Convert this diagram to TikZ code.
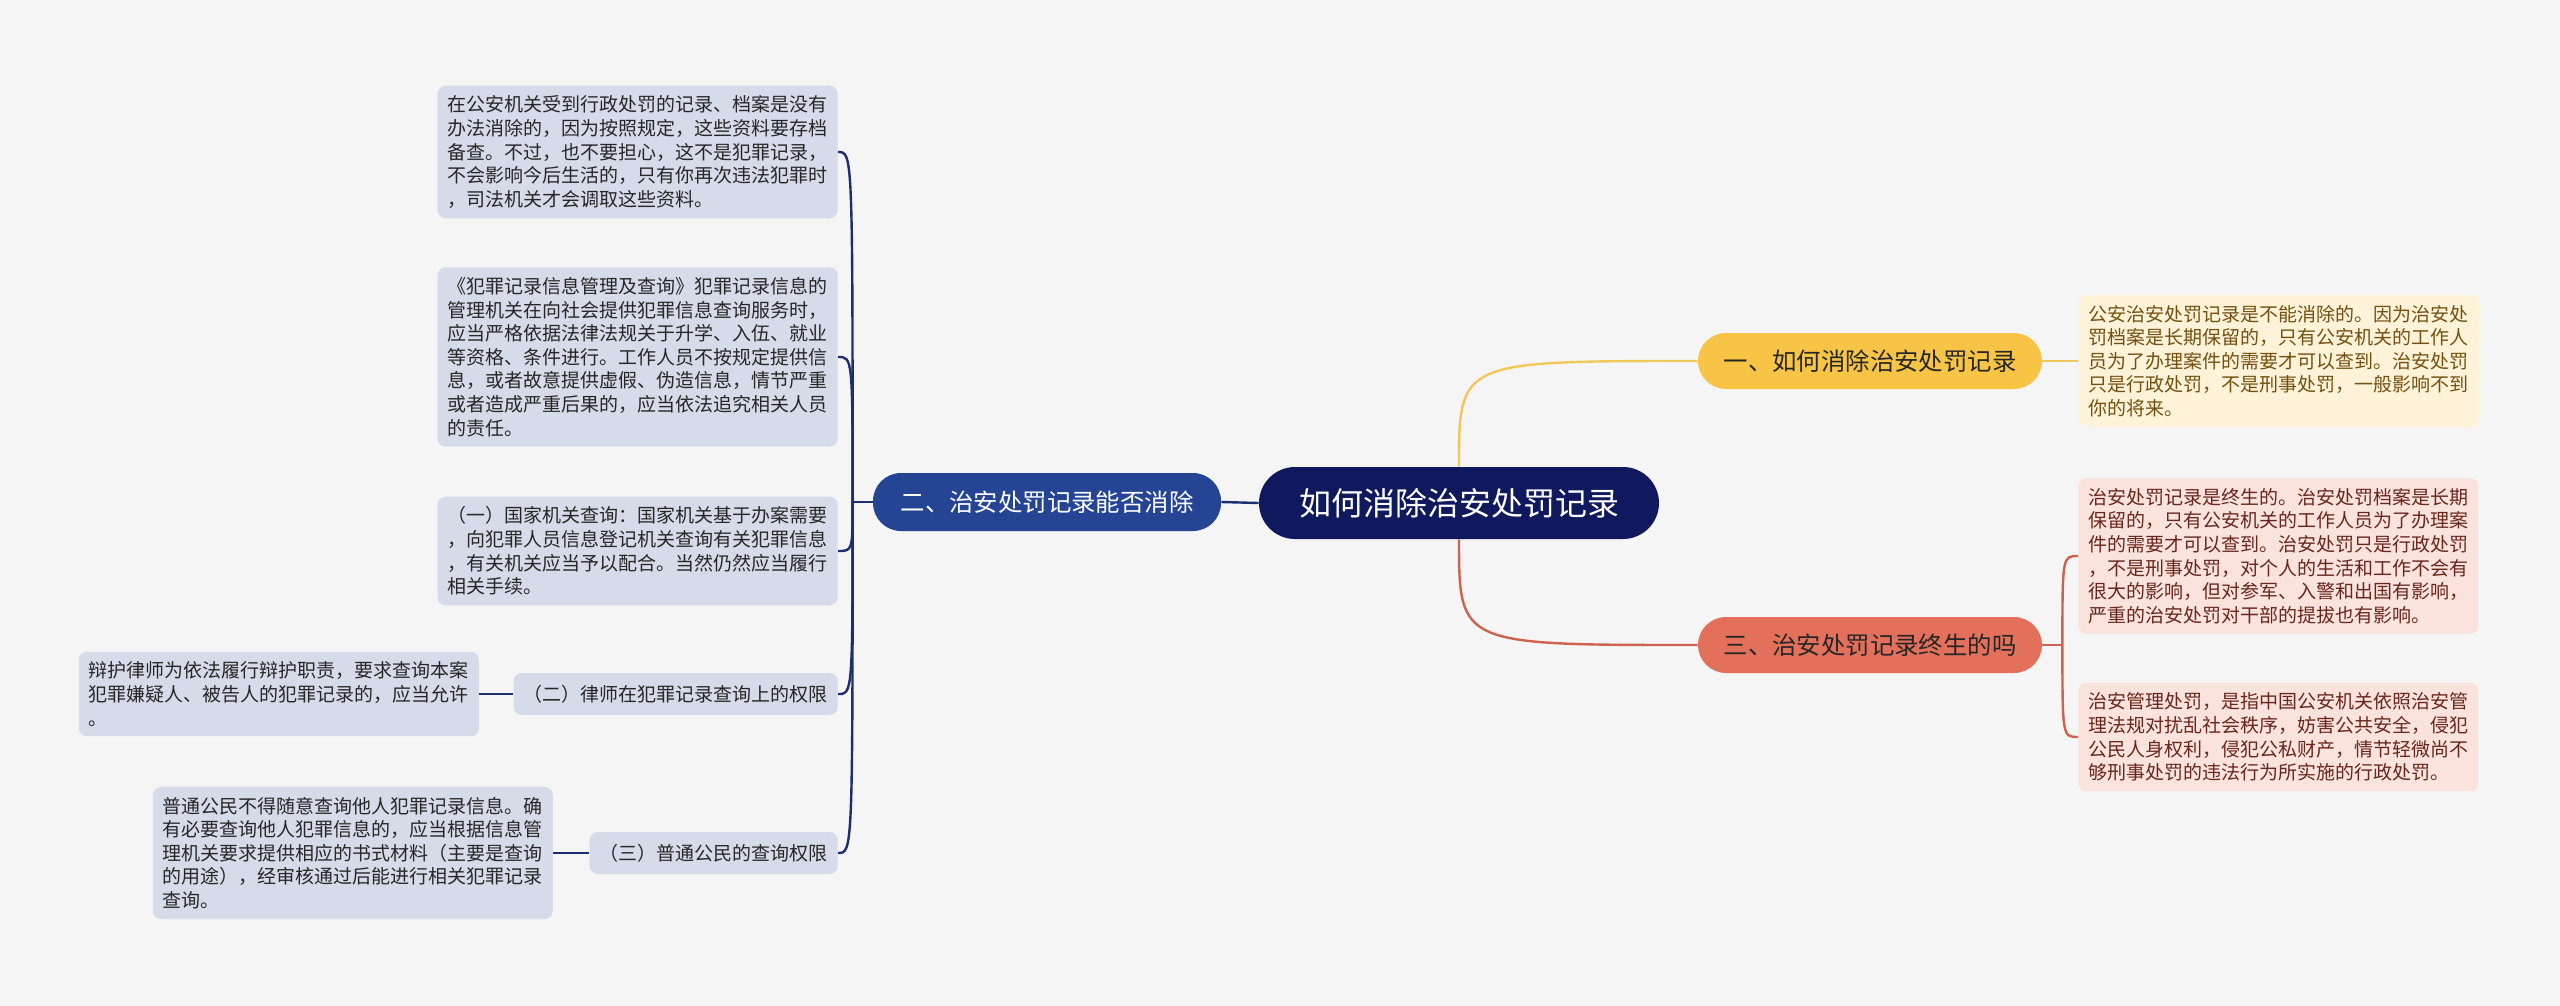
\documentclass[tikz,border=0pt]{standalone}
\usepackage{fontspec}
\setmainfont{Noto Sans CJK SC}
\usepackage{xcolor}
\usepackage{tikz}
\usetikzlibrary{positioning}
\definecolor{bgcol}{RGB}{245,245,245}
\definecolor{rootcol}{RGB}{16,24,94}
\definecolor{bluecol}{RGB}{37,68,148}
\definecolor{bluelink}{RGB}{28,46,112}
\definecolor{blueleaf}{RGB}{214,219,233}
\definecolor{yellowcol}{RGB}{248,196,70}
\definecolor{yellowlink}{RGB}{240,200,90}
\definecolor{yellowleaf}{RGB}{254,243,216}
\definecolor{yellowtext}{RGB}{115,80,15}
\definecolor{redcol}{RGB}{226,112,90}
\definecolor{redlink}{RGB}{205,98,78}
\definecolor{redleaf}{RGB}{250,227,221}
\definecolor{redtext}{RGB}{105,38,28}

\begin{document}
\begin{tikzpicture}[
            x=0.5pt, y=-0.5pt,
            root/.style={rectangle, rounded corners=18pt, fill=rootcol, text=white, minimum width=200pt, minimum height=36pt, font=\fontsize{16}{19}\selectfont},
            topic/.style={rectangle, rounded corners=14pt, minimum width=172pt, minimum height=28pt, font=\fontsize{12.2}{14}\selectfont},
            sub/.style={rectangle, rounded corners=4pt, fill=blueleaf, text=black!85, minimum height=21pt, inner xsep=5pt, font=\fontsize{9.5}{11.8}\selectfont},
            leaf/.style={rectangle, rounded corners=4pt, text width=190pt, inner xsep=5pt, inner ysep=5pt, align=left, font=\fontsize{9.5}{11.8}\selectfont},
            link/.style={line width=1.2pt}
        ]
            \fill[bgcol] (0,0) rectangle (2560,1006);
            \useasboundingbox (0,0) rectangle (2560,1006);

            \node[root] (root) at (1459,503) {如何消除治安处罚记录};

            % right side
            \node[topic, fill=yellowcol, text=black!85] (b1) at (1870,361) {一、如何消除治安处罚记录};
            \node[leaf, fill=yellowleaf, text=yellowtext, right=18pt of b1] (y1) {公安治安处罚记录是不能消除的。因为治安处\\罚档案是长期保留的，只有公安机关的工作人\\员为了办理案件的需要才可以查到。治安处罚\\只是行政处罚，不是刑事处罚，一般影响不到\\你的将来。};
            \node[topic, fill=redcol, text=black!85] (b3) at (1870,645) {三、治安处罚记录终生的吗};
            \node[leaf, fill=redleaf, text=redtext, anchor=west] (r1) at (2078,556) {治安处罚记录是终生的。治安处罚档案是长期\\保留的，只有公安机关的工作人员为了办理案\\件的需要才可以查到。治安处罚只是行政处罚\\，不是刑事处罚，对个人的生活和工作不会有\\很大的影响，但对参军、入警和出国有影响，\\严重的治安处罚对干部的提拔也有影响。};
            \node[leaf, fill=redleaf, text=redtext, anchor=west] (r2) at (2078,737) {治安管理处罚，是指中国公安机关依照治安管\\理法规对扰乱社会秩序，妨害公共安全，侵犯\\公民人身权利，侵犯公私财产，情节轻微尚不\\够刑事处罚的违法行为所实施的行政处罚。};

            % left side
            \node[topic, fill=bluecol, text=white, minimum width=174pt, minimum height=29pt] (b2) at (1047,502) {二、治安处罚记录能否消除};
            \node[leaf, fill=blueleaf, text=black!85, anchor=east] (l1) at (838,152) {在公安机关受到行政处罚的记录、档案是没有\\办法消除的，因为按照规定，这些资料要存档\\备查。不过，也不要担心，这不是犯罪记录，\\不会影响今后生活的，只有你再次违法犯罪时\\，司法机关才会调取这些资料。};
            \node[leaf, fill=blueleaf, text=black!85, anchor=east] (l2) at (838,357) {《犯罪记录信息管理及查询》犯罪记录信息的\\管理机关在向社会提供犯罪信息查询服务时，\\应当严格依据法律法规关于升学、入伍、就业\\等资格、条件进行。工作人员不按规定提供信\\息，或者故意提供虚假、伪造信息，情节严重\\或者造成严重后果的，应当依法追究相关人员\\的责任。};
            \node[leaf, fill=blueleaf, text=black!85, anchor=east] (l3) at (838,551) {（一）国家机关查询：国家机关基于办案需要\\，向犯罪人员信息登记机关查询有关犯罪信息\\，有关机关应当予以配合。当然仍然应当履行\\相关手续。};
            \node[sub, anchor=east] (s2) at (838,694) {（二）律师在犯罪记录查询上的权限};
            \node[leaf, fill=blueleaf, text=black!85, left=17pt of s2] (s2leaf) {辩护律师为依法履行辩护职责，要求查询本案\\犯罪嫌疑人、被告人的犯罪记录的，应当允许\\。};
            \node[sub, anchor=east] (s3) at (838,853) {（三）普通公民的查询权限};
            \node[leaf, fill=blueleaf, text=black!85, left=18pt of s3] (s3leaf) {普通公民不得随意查询他人犯罪记录信息。确\\有必要查询他人犯罪信息的，应当根据信息管\\理机关要求提供相应的书式材料（主要是查询\\的用途），经审核通过后能进行相关犯罪记录\\查询。};

            % connectors
            \coordinate (hub2) at ([xshift=-10pt]b2.west);
            \coordinate (hub3) at ([xshift=10pt]b3.east);
            \draw[link, yellowlink] (root.north) .. controls (root.north |- b1.west) .. (b1.west);
            \draw[link, yellowlink] (b1.east) -- (y1.west);
            \draw[link, redlink] (root.south) .. controls (root.south |- b3.west) .. (b3.west);
            \draw[link, redlink] (b3.east) -- (hub3);
            \foreach \n in {r1, r2}
                \draw[link, redlink] (hub3) .. controls (hub3 |- \n.west) .. (\n.west);
            \draw[link, bluelink] (root.west) -- (b2.east);
            \draw[link, bluelink] (b2.west) -- (hub2);
            \foreach \n in {l1, l2, l3, s2, s3}
                \draw[link, bluelink] (hub2) .. controls (hub2 |- \n.east) .. (\n.east);
            \draw[link, bluelink] (s2.west) -- (s2leaf.east);
            \draw[link, bluelink] (s3.west) -- (s3leaf.east);
        \end{tikzpicture}
\end{document}
